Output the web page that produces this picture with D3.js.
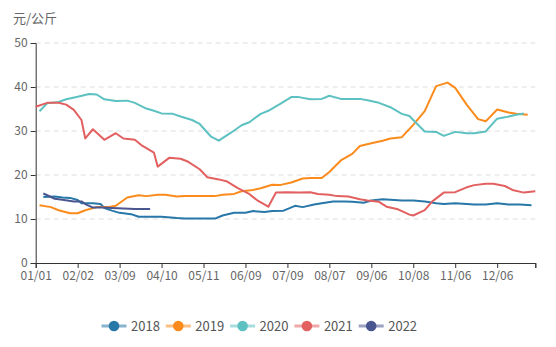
<!DOCTYPE html>
<meta charset="utf-8">
<style>
body { margin: 0; background: #fff; }
text { font-family: "Noto Sans CJK SC", "Noto Sans", sans-serif; }
</style>
<svg width="556" height="347"></svg>
<script src="https://d3js.org/d3.v7.min.js"></script>
<script>
// category axis: 132 dates, a label every 11th one
var nCats = 132;
var tickLabels = ['01/01', '02/02', '03/09', '04/10', '05/11', '06/09', '07/09', '08/07', '09/06', '10/08', '11/06', '12/06'];
var labelStep = 11;
var yTicks = [0, 10, 20, 30, 40, 50];
var years = ['2018', '2019', '2020', '2021', '2022'];
var colors = ['#2777a8', '#fb8b1c', '#5ec1c1', '#e26060', '#4a5690'];

// [category index, price]
var s2018 = [[2,15.0],[5,15.1],[7,14.9],[9,14.8],[11,14.3],[12,13.6],[15,13.6],[17,13.4],[18,12.5],[20,11.9],[22,11.4],[25,11.1],[27,10.5],[30,10.5],[33,10.5],[37,10.2],[39,10.1],[42,10.1],[44,10.1],[47,10.1],[49,10.8],[52,11.4],[55,11.4],[57,11.8],[60,11.6],[62,11.8],[65,11.9],[68,13.0],[70,12.7],[73,13.3],[75,13.6],[78,14.0],[81,14.0],[83,13.9],[86,13.7],[88,14.2],[91,14.5],[94,14.3],[96,14.2],[99,14.2],[102,14.0],[105,13.6],[107,13.4],[110,13.6],[113,13.4],[115,13.3],[118,13.3],[121,13.6],[124,13.3],[127,13.3],[130,13.1]];
var s2019 = [[1,13.1],[4,12.7],[6,12.0],[9,11.3],[11,11.3],[13,12.0],[16,12.7],[19,12.7],[21,13.0],[24,14.9],[27,15.4],[29,15.2],[32,15.5],[34,15.5],[37,15.1],[39,15.2],[42,15.2],[44,15.2],[47,15.2],[49,15.5],[52,15.7],[54,16.3],[57,16.6],[59,17.0],[62,17.8],[64,17.7],[67,18.3],[70,19.2],[72,19.3],[75,19.3],[77,20.7],[80,23.3],[83,24.8],[85,26.6],[88,27.2],[91,27.8],[93,28.3],[96,28.6],[99,31.4],[102,34.5],[105,40.2],[108,41.0],[110,39.8],[113,36.0],[116,32.7],[118,32.2],[121,34.9],[124,34.2],[126,33.9],[129,33.7]];
var s2020 = [[1,34.5],[3,36.3],[6,36.6],[8,37.2],[11,37.8],[14,38.4],[16,38.3],[18,37.2],[21,36.8],[24,36.9],[26,36.4],[29,35.1],[31,34.6],[33,34.0],[36,33.9],[38,33.3],[41,32.5],[43,31.6],[46,28.7],[48,27.8],[51,29.5],[54,31.3],[56,32.0],[59,33.9],[61,34.6],[64,36.1],[67,37.7],[69,37.7],[72,37.2],[75,37.3],[77,38.0],[80,37.3],[82,37.3],[85,37.3],[87,37.0],[90,36.4],[93,35.4],[96,33.9],[98,33.4],[99,32.5],[102,29.9],[105,29.8],[107,28.9],[110,29.8],[113,29.5],[115,29.5],[118,29.9],[121,32.8],[123,33.1],[126,33.7],[128,34.0]];
var s2021 = [[0,35.5],[3,36.4],[6,36.4],[8,36.0],[10,34.8],[12,32.5],[13,28.3],[15,30.4],[18,28.0],[21,29.5],[23,28.3],[26,28.0],[28,26.6],[31,25.1],[32,21.9],[35,23.9],[38,23.7],[40,23.0],[43,21.3],[45,19.5],[48,19.0],[50,18.6],[53,17.0],[56,15.7],[58,14.3],[61,12.8],[63,16.0],[66,16.1],[69,16.0],[72,16.1],[74,15.7],[77,15.5],[79,15.2],[82,15.1],[85,14.5],[87,14.2],[90,13.9],[92,12.8],[95,12.2],[98,11.0],[99,10.8],[102,12.0],[104,14.0],[107,16.0],[110,16.1],[113,17.2],[115,17.7],[118,18.0],[120,18.0],[123,17.5],[125,16.6],[128,16.0],[131,16.3]];
var s2022 = [[2,15.8],[5,14.6],[7,14.4],[10,14.0],[12,14.0],[13,13.4],[15,12.6],[18,12.6],[20,12.5],[23,12.4],[26,12.3],[28,12.3],[30,12.3]];
var series = [s2018, s2019, s2020, s2021, s2022];

var svg = d3.select('svg');
var plotLeft = 35.7, plotRight = 535.3, plotTop = 43, plotBottom = 263;

var x = d3.scaleLinear().domain([0, nCats - 1]).range([plotLeft, plotRight]);
var y = d3.scaleLinear().domain([0, 50]).range([plotBottom, plotTop]);

// grid
svg.append('g').selectAll('line')
    .data(yTicks.filter(function(d) { return d > 0 }))
    .enter().append('line')
    .attr('x1', plotLeft).attr('x2', plotRight)
    .attr('y1', function(d) { return y(d) }).attr('y2', function(d) { return y(d) })
    .attr('stroke', '#ddd')
    .attr('stroke-dasharray', '5,4')

// y axis
var yAxis = svg.append('g')
    .attr('transform', 'translate(' + plotLeft + ',0)')
    .call(d3.axisLeft(y).tickValues(yTicks).tickSize(5).tickPadding(3))
yAxis.select('.domain').attr('stroke', '#333')
yAxis.selectAll('.tick line').attr('stroke', '#333')
yAxis.selectAll('text').attr('fill', '#666').attr('font-size', 12)

svg.append('text')
    .attr('x', 13).attr('y', 23)
    .attr('fill', '#666').attr('font-size', 13)
    .text('元/公斤')

// x axis
var xTickVals = tickLabels.map(function(d, i) { return i * labelStep }).concat([nCats - 1]);
var xAxis = svg.append('g')
    .attr('transform', 'translate(0,' + plotBottom + ')')
    .call(d3.axisBottom(x).tickValues(xTickVals).tickSize(5).tickPadding(3)
        .tickFormat(function(d, i) { return tickLabels[i] || '' }))
xAxis.select('.domain').attr('stroke', '#333')
xAxis.selectAll('.tick line').attr('stroke', '#333')
xAxis.selectAll('text').attr('fill', '#666').attr('font-size', 12)

// lines
var line = d3.line()
    .x(function(d) { return x(d[0]) })
    .y(function(d) { return y(d[1]) })

svg.append('g').selectAll('path')
    .data(series)
    .enter().append('path')
    .attr('d', line)
    .attr('fill', 'none')
    .attr('stroke', function(d, i) { return colors[i] })
    .attr('stroke-width', 2)
    .attr('stroke-linejoin', 'round')

// legend
var legend = svg.append('g').selectAll('g')
    .data(years)
    .enter().append('g')
    .attr('transform', function(d, i) { return 'translate(' + (101.5 + i * 64.3) + ',326)' })
legend.append('line')
    .attr('x1', 0).attr('x2', 25)
    .attr('stroke', function(d, i) { return colors[i] })
    .attr('stroke-opacity', 0.55)
    .attr('stroke-width', 3)
legend.append('circle')
    .attr('cx', 12.5).attr('r', 5.3)
    .attr('fill', function(d, i) { return colors[i] })
legend.append('text')
    .attr('x', 29.5).attr('dy', '0.35em')
    .attr('fill', '#555').attr('font-size', 13)
    .text(function(d) { return d })
</script>
